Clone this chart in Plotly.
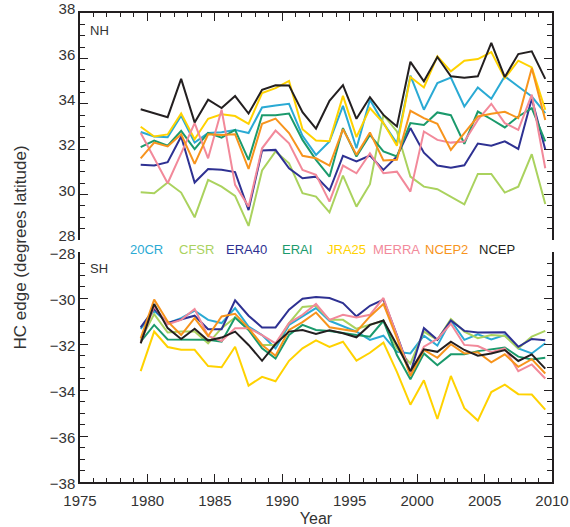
import plotly.graph_objects as go

years = list(range(1979, 2010))  # annual means, plotted at mid-year

names = ["20CR", "CFSR", "ERA40", "ERAI", "JRA25", "MERRA", "NCEP2", "NCEP"]
colors = ["#2AAAD4", "#AAD25E", "#2E3192", "#1B9A6C", "#FFD200", "#F2899A", "#F7941D", "#231F20"]

nh_20cr = [32.76, 32.56, 32.53, 33.47, 32.29, 32.71, 32.75, 32.85, 32.71, 33.84, 33.93, 34.00, 32.59, 31.75, 32.34, 33.91,
           32.04, 34.18, 33.15, 32.26, 35.24, 33.74, 34.91, 35.16, 33.88, 34.72, 34.22, 35.21, 34.76, 34.32, 33.59]
nh_cfsr = [30.10, 30.06, 30.53, 30.09, 29.00, 30.65, 30.35, 29.94, 28.62, 31.06, 31.90, 31.38, 30.06, 29.91, 29.22, 30.84,
           29.47, 30.46, 33.51, 32.78, 30.79, 30.35, 30.24, 29.91, 29.57, 30.91, 30.91, 30.09, 30.35, 31.78, 29.59]
nh_era40 = [31.32, 31.28, 31.43, 32.56, 30.53, 31.13, 31.09, 30.99, 29.32, 31.94, 31.97, 31.16, 30.72, 30.79, 30.18, 31.71,
            31.46, 31.72, 31.09, 31.68, 32.93, 31.85, 31.28, 31.18, 31.29, 32.25, 32.15, 32.35, 32.01, 34.22, 31.99]
nh_erai = [32.09, 32.38, 32.16, 32.81, 32.00, 32.72, 32.51, 32.85, 31.53, 33.50, 33.50, 33.57, 32.41, 31.53, 30.79, 32.93,
           31.68, 32.63, 31.90, 31.68, 33.15, 33.07, 33.62, 33.50, 32.24, 33.66, 33.32, 32.96, 33.44, 33.81, 32.34]
nh_jra25 = [32.99, 32.56, 32.65, 33.57, 32.44, 33.34, 33.54, 33.46, 33.12, 34.47, 34.69, 35.01, 32.88, 32.38, 32.35, 34.35,
            32.53, 33.81, 33.15, 32.15, 35.18, 34.72, 36.09, 35.43, 35.90, 35.97, 36.28, 35.13, 35.90, 35.60, 33.74]
nh_merra = [32.71, 31.60, 30.50, 31.82, 33.15, 31.60, 33.74, 30.43, 29.47, 32.04, 32.82, 32.26, 31.09, 30.87, 29.69, 31.28,
            30.94, 31.82, 30.94, 31.01, 30.13, 32.78, 32.41, 32.29, 32.34, 33.29, 34.00, 33.15, 32.85, 34.40, 31.16]
nh_ncep2 = [31.60, 32.29, 32.12, 32.66, 31.35, 32.66, 32.63, 32.66, 31.13, 33.12, 33.35, 32.71, 31.71, 31.60, 31.28, 32.88,
            31.75, 32.74, 31.50, 31.53, 33.69, 33.37, 33.12, 31.97, 32.71, 33.44, 33.56, 33.65, 33.37, 35.57, 33.29]
nh_ncep = [33.76, 33.59, 33.41, 35.10, 33.18, 34.18, 33.81, 34.34, 33.57, 34.62, 34.82, 34.81, 33.63, 32.91, 34.13, 34.82,
           33.34, 34.29, 33.51, 33.00, 35.85, 34.99, 36.06, 35.21, 35.15, 35.21, 36.68, 35.18, 36.19, 36.31, 35.10]

sh_20cr = [-31.34, -30.55, -31.09, -30.88, -30.55, -30.95, -31.09, -30.44, -31.24, -31.61, -32.19, -31.17, -30.80, -30.44, -30.99, -31.21,
           -31.46, -31.82, -31.64, -32.34, -32.41, -31.64, -32.07, -30.98, -31.82, -31.58, -31.80, -31.61, -32.19, -32.41, -31.97]
sh_cfsr = [-31.82, -30.70, -31.50, -31.46, -31.46, -31.97, -31.31, -30.85, -31.36, -32.04, -32.04, -31.09, -30.39, -30.34, -30.95, -30.95,
           -31.34, -31.17, -30.99, -32.19, -32.85, -31.46, -31.82, -30.91, -31.46, -31.75, -31.61, -31.65, -32.19, -31.68, -31.43]
sh_era40 = [-31.28, -30.47, -31.09, -30.92, -30.77, -31.36, -31.36, -30.10, -30.77, -31.28, -31.28, -30.51, -30.03, -29.96, -30.00, -30.22,
            -30.80, -30.34, -30.07, -31.61, -33.24, -31.31, -31.82, -30.98, -31.43, -31.50, -31.50, -31.49, -32.12, -31.78, -31.84]
sh_erai = [-31.90, -31.17, -31.80, -31.80, -31.80, -31.82, -31.90, -30.85, -31.39, -32.19, -32.63, -31.61, -31.17, -31.39, -31.43, -31.53,
           -31.61, -31.68, -30.99, -32.48, -33.53, -32.41, -32.92, -32.45, -32.45, -32.31, -32.23, -32.15, -32.55, -32.67, -32.60]
sh_jra25 = [-33.18, -31.46, -32.13, -32.25, -32.25, -32.96, -33.01, -32.12, -33.81, -33.43, -33.62, -32.73, -32.19, -31.84, -32.13, -31.90,
            -32.72, -32.38, -31.94, -33.21, -34.64, -33.58, -35.26, -33.39, -34.79, -35.33, -34.09, -33.77, -34.18, -34.20, -34.85]
sh_merra = [-31.94, -30.36, -31.14, -30.95, -30.48, -31.65, -31.87, -31.31, -31.31, -31.61, -31.97, -31.09, -30.73, -30.26, -30.95, -30.73,
            -30.85, -30.73, -30.00, -31.61, -33.28, -32.12, -31.78, -31.12, -32.04, -32.09, -32.36, -32.19, -33.18, -32.89, -33.50]
sh_ncep2 = [-31.75, -30.07, -31.02, -31.61, -30.88, -31.65, -30.80, -30.69, -31.31, -32.04, -32.51, -31.39, -31.05, -30.63, -31.27, -31.36,
            -31.46, -30.80, -30.26, -31.75, -33.39, -32.26, -32.60, -32.01, -32.41, -32.36, -32.80, -32.45, -32.99, -32.66, -33.28]
sh_ncep = [-31.97, -30.26, -31.31, -31.78, -31.34, -31.85, -31.72, -31.46, -32.04, -32.73, -32.00, -31.46, -31.39, -31.56, -31.40, -31.53,
           -31.71, -31.17, -30.98, -32.04, -33.18, -32.23, -32.34, -31.90, -32.26, -32.51, -32.41, -32.26, -32.74, -32.45, -33.07]

nh = [nh_20cr, nh_cfsr, nh_era40, nh_erai, nh_jra25, nh_merra, nh_ncep2, nh_ncep]
sh = [sh_20cr, sh_cfsr, sh_era40, sh_erai, sh_jra25, sh_merra, sh_ncep2, sh_ncep]

x_mid = [y + 0.5 for y in years]

fig = go.Figure()
for name, col, vals in zip(names, colors, nh):
    fig.add_trace(go.Scatter(x=x_mid, y=vals, mode="lines", name=name,
                             line=dict(color=col, width=2), xaxis="x2", yaxis="y2", showlegend=False))
for name, col, vals in zip(names, colors, sh):
    fig.add_trace(go.Scatter(x=x_mid, y=vals, mode="lines", name=name,
                             line=dict(color=col, width=2), xaxis="x", yaxis="y", showlegend=False))

font = "Liberation Sans, Arial, sans-serif"
axcol = "#231F20"
tickfont = dict(family=font, size=15, color="#333333")

W, H = 570, 527
L, R, T, B = 80, 18, 13, 45
ph = H - T - B

def pf(py):
    return 1 - (py - T) / ph

common_y = dict(showline=True, linecolor=axcol, linewidth=1.5, mirror="allticks", automargin=False,
                ticks="inside", ticklen=8, tickwidth=1.2, tickcolor=axcol, dtick=2,
                minor=dict(ticks="inside", dtick=0.5, ticklen=5, tickwidth=1, tickcolor=axcol),
                showgrid=False, zeroline=False, tickfont=tickfont)

fig.update_layout(
    width=W, height=H,
    margin=dict(l=L, r=R, t=T, b=B, autoexpand=False),
    plot_bgcolor="white", paper_bgcolor="white",
    xaxis=dict(domain=[0, 1], range=[1975, 2010], anchor="y", showline=True, linecolor=axcol, linewidth=1.5,
               automargin=False, ticklabelstandoff=4,
               ticks="inside", ticklen=8, tickwidth=1.2, tickcolor=axcol, dtick=5, tick0=1975,
               minor=dict(ticks="inside", dtick=1, ticklen=4, tickwidth=1, tickcolor=axcol),
               showgrid=False, zeroline=False, tickfont=tickfont,
               title=dict(text="Year", font=dict(family=font, size=16, color="#333333"), standoff=10)),
    yaxis=dict(domain=[0, pf(252)], range=[-38, -28], anchor="x", ticklabelshift=2, **common_y),
    xaxis2=dict(domain=[0, 1], range=[1975, 2010], anchor="y2", side="top", showline=True, linecolor=axcol,
                linewidth=1.5, automargin=False, ticks="inside", ticklen=8, tickwidth=1.2, tickcolor=axcol,
                dtick=5, tick0=1975,
                minor=dict(ticks="inside", dtick=1, ticklen=4, tickwidth=1, tickcolor=axcol),
                showticklabels=False, showgrid=False, zeroline=False),
    yaxis2=dict(domain=[pf(240), 1], range=[28, 38], anchor="x2", ticklabelshift=-4, **common_y),
)

anns = []
anns.append(dict(text="HC edge (degrees latitude)", xref="paper", yref="paper", x=-(L - 20) / (W - L - R),
                 y=0.5, textangle=-90, showarrow=False, xanchor="center", yanchor="middle",
                 font=dict(family=font, size=17, color="#333333")))
anns.append(dict(text="NH", xref="paper", yref="paper", x=8 / (W - L - R), y=pf(30), showarrow=False,
                 xanchor="left", yanchor="middle", font=dict(family=font, size=13, color="#333333")))
anns.append(dict(text="SH", xref="paper", yref="paper", x=8 / (W - L - R), y=pf(268), showarrow=False,
                 xanchor="left", yanchor="middle", font=dict(family=font, size=13, color="#333333")))
for k, (name, col) in enumerate(zip(names, colors)):
    px = 146.7 + 50 * k
    anns.append(dict(text=name, xref="paper", yref="paper", x=(px - L) / (W - L - R), y=pf(250),
                     showarrow=False, xanchor="center", yanchor="middle",
                     font=dict(family=font, size=13, color=col)))
fig.update_layout(annotations=anns)

fig.write_html("out.html", config={"displayModeBar": False},
               post_script="document.body.style.margin='0';document.body.style.overflow='hidden';")
